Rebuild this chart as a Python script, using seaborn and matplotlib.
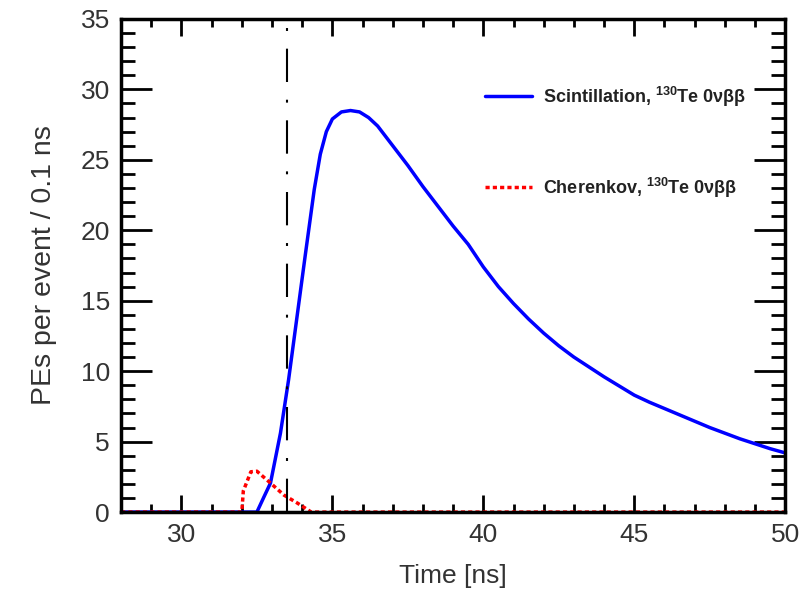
import matplotlib
matplotlib.use("Agg")
import matplotlib.pyplot as plt
from matplotlib.ticker import MultipleLocator
import seaborn as sns

# values (ns, PEs per event / 0.1 ns)
scint_time = [28.0, 32.5, 32.73, 32.95, 33.28, 33.55, 33.8, 34.1, 34.4, 34.6,
              34.8, 35.0, 35.3, 35.6, 35.9, 36.2, 36.5, 37.0, 37.5, 38.0,
              38.5, 39.0, 39.5, 40.0, 40.5, 41.0, 41.5, 42.0, 42.5, 43.0,
              43.5, 44.0, 44.5, 45.0, 45.5, 46.0, 46.5, 47.0, 47.5, 48.0,
              48.5, 49.0, 49.5, 50.0]
scint_pes = [0.0, 0.0, 1.06, 2.06, 5.6, 9.4, 13.4, 18.2, 22.9, 25.4,
             27.0, 27.9, 28.4, 28.5, 28.4, 28.0, 27.4, 26.0, 24.6, 23.1,
             21.7, 20.3, 19.0, 17.4, 16.0, 14.8, 13.7, 12.7, 11.8, 11.0,
             10.3, 9.6, 8.95, 8.3, 7.8, 7.35, 6.9, 6.45, 6.0, 5.6,
             5.2, 4.85, 4.5, 4.2]

cher_time = [28.0, 32.0, 32.05, 32.3, 32.5, 32.95, 33.4, 33.84, 34.1, 34.3, 50.0]
cher_pes = [0.0, 0.0, 1.5, 2.86, 2.9, 2.06, 1.2, 0.64, 0.28, 0.0, 0.0]

cut_time = 33.5

scint_label = "Scintillation, $^{\\mathbf{130}}$Te 0νββ"
cher_label = "Cherenkov, $^{\\mathbf{130}}$Te 0νββ"

sns.set_theme(style="ticks")
plt.rcParams["font.family"] = ["Liberation Sans", "DejaVu Sans"]
plt.rcParams["mathtext.fontset"] = "custom"
plt.rcParams["mathtext.rm"] = "Liberation Sans"
plt.rcParams["mathtext.bf"] = "Liberation Sans:bold"

fig = plt.figure(figsize=(8.07, 5.92), dpi=100)
ax = fig.add_axes([0.150, 0.135, 0.823, 0.833])

sns.lineplot(x=scint_time, y=scint_pes, ax=ax, color="#0000ff", lw=2.5,
             label=scint_label, sort=False, estimator=None)
sns.lineplot(x=cher_time, y=cher_pes, ax=ax, color="#ff0000", lw=2.5,
             linestyle=(0, (1.2, 0.9)), label=cher_label, sort=False, estimator=None)
ax.axvline(cut_time, color="black", lw=1.5, linestyle=(0, (16, 8.5, 1.4, 8.5)))

ax.set_xlim(28, 50)
ax.set_ylim(0, 35)
ax.xaxis.set_major_locator(MultipleLocator(5))
ax.xaxis.set_minor_locator(MultipleLocator(1))
ax.yaxis.set_major_locator(MultipleLocator(5))
ax.yaxis.set_minor_locator(MultipleLocator(1))

text_col = "#333333"
ax.tick_params(which="both", direction="in", top=True, right=True,
               labelsize=19, labelcolor=text_col, color="black")
ax.tick_params(axis="x", which="major", length=12, width=2, pad=8)
ax.tick_params(axis="x", which="minor", length=6, width=2)
ax.tick_params(axis="y", which="major", length=22, width=2, pad=8)
ax.tick_params(axis="y", which="minor", length=10, width=2)
for sp in ax.spines.values():
    sp.set_linewidth(2.5)
    sp.set_color("black")

ax.set_xlabel("Time [ns]", fontsize=19, color=text_col, labelpad=12)
ax.set_ylabel("PEs per event / 0.1 ns", fontsize=20.5, color=text_col, labelpad=17)

leg = ax.legend(loc="upper left", bbox_to_anchor=(0.535, 0.885), frameon=False,
                borderpad=0, handlelength=2.6, handletextpad=0.6, labelspacing=3.7,
                prop={"weight": "bold", "size": 13})
for t in leg.get_texts():
    t.set_color("#222222")

fig.savefig("out.png", dpi=100)
